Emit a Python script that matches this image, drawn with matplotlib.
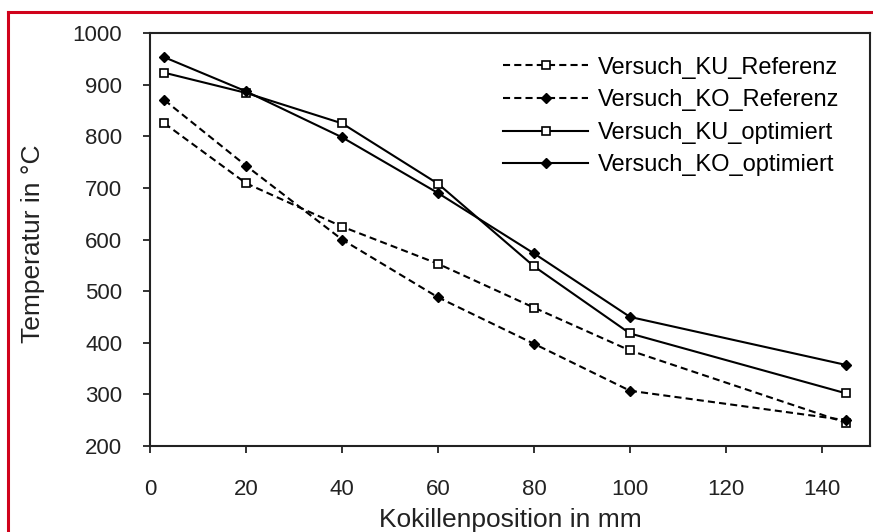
import numpy as np
import matplotlib
matplotlib.use("Agg")
import matplotlib.pyplot as plt
from matplotlib.lines import Line2D

plt.rcParams['font.family'] = ['Liberation Sans', 'DejaVu Sans']

# Messwerte
pos = [3, 20, 40, 60, 80, 100, 145]
ku_ref = [825, 709, 625, 553, 468, 385, 245]
ko_ref = [870, 743, 600, 488, 398, 307, 250]
ku_opt = [923, 884, 825, 708, 548, 418, 302]
ko_opt = [953, 887, 798, 690, 573, 450, 357]

fig = plt.figure(figsize=(8.73, 5.32), dpi=100)
ax = fig.add_axes([150 / 873, 1 - 446 / 532, 720 / 873, 413 / 532])

dash = (0, (3.4, 2.0))
ax.plot(pos, ku_ref, color='black', lw=1.5, ls=dash, marker='s',
        ms=5.5, mfc='white', mec='black', mew=1.2, label='Versuch_KU_Referenz')
ax.plot(pos, ko_ref, color='black', lw=1.5, ls=dash, marker='D',
        ms=4.8, mfc='black', mec='black', label='Versuch_KO_Referenz')
ax.plot(pos, ku_opt, color='black', lw=1.5, ls='-', marker='s',
        ms=5.5, mfc='white', mec='black', mew=1.2, label='Versuch_KU_optimiert')
ax.plot(pos, ko_opt, color='black', lw=1.5, ls='-', marker='D',
        ms=4.8, mfc='black', mec='black', label='Versuch_KO_optimiert')

ax.set_xlim(0, 150)
ax.set_ylim(200, 1000)
ax.set_xticks(np.arange(0, 141, 20))
ax.set_yticks(np.arange(200, 1001, 100))
ax.tick_params(direction='out', length=5, width=1.3, labelsize=16,
               colors='#222222')
ax.tick_params(axis='y', pad=15)
ax.tick_params(axis='x', pad=19)
for s in ax.spines.values():
    s.set_linewidth(1.5)
    s.set_color('#222222')

ax.set_ylabel('Temperatur in °C', fontsize=19, va='center', color='#222222')
ax.yaxis.set_label_coords(-0.163, 0.489)
ax.set_xlabel('Kokillenposition in mm', fontsize=19, va='center', color='#222222')
ax.xaxis.set_label_coords(0.5, -0.179)

ax.legend(loc='upper left', bbox_to_anchor=((503 - 150) / 720, 0.943),
          frameon=False, fontsize=17, handlelength=3.6, handletextpad=0.4,
          labelspacing=0.45, borderpad=0, borderaxespad=0)

# roter Rahmen
fig.add_artist(Line2D([8 / 873, 1], [1 - 12 / 532, 1 - 12 / 532],
                      color='#d0021b', lw=2.2, transform=fig.transFigure))
fig.add_artist(Line2D([8 / 873, 8 / 873], [0, 1 - 12 / 532],
                      color='#d0021b', lw=2.2, transform=fig.transFigure))

fig.savefig('out.png', dpi=100)
